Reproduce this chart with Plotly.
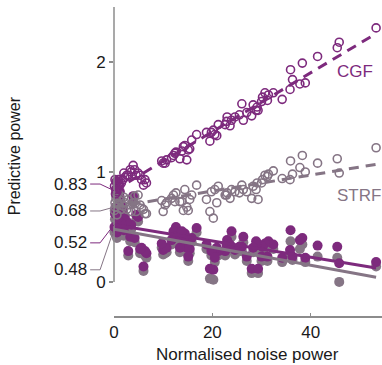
import plotly.graph_objects as go

# One entry per neuron: normalised noise power and four predictive-power measures
noise_power = [53.3, 45.8, 45.4, 41.4, 38.3, 37.8, 35.9, 36.3, 38.9, 35.8,
               34.2, 32.4, 31.4, 30.7, 31.2, 30.2, 30.0, 29.1, 28.9, 28.0,
               29.3, 28.3, 27.0, 26.0, 26.3, 25.5, 24.6, 23.9, 23.0, 22.9,
               23.6, 22.6, 21.2, 20.2, 20.9, 19.5, 18.8, 19.8, 20.5, 16.8,
               15.8, 15.4, 14.1, 14.4, 14.8, 15.1, 12.6, 12.1, 13.4, 12.4,
               11.7, 13.8, 10.7, 10.0, 10.4, 9.7, 6.6, 6.3, 6.0, 5.6,
               5.3, 4.9, 4.5, 4.2, 3.9, 3.5, 3.3, 2.9, 2.6, 2.2,
               1.8, 1.5, 1.2, 0.9, 0.8, 0.5, 0.4, 0.3, 0.2, 0.1,
               0.6, 1.0, 2.0]

cgf_norm = [2.31, 2.18, 2.13, 2.05, 1.99, 1.80, 1.93, 1.84, 1.81, 1.75,
            1.66, 1.72, 1.70, 1.72, 1.65, 1.68, 1.64, 1.59, 1.56, 1.51,
            1.56, 1.61, 1.54, 1.62, 1.47, 1.52, 1.50, 1.47, 1.50, 1.46,
            1.42, 1.43, 1.43, 1.38, 1.33, 1.28, 1.36, 1.36, 1.34, 1.34,
            1.29, 1.21, 1.23, 1.24, 1.11, 1.20, 1.18, 1.15, 1.12, 1.17,
            1.13, 1.19, 1.11, 1.08, 1.08, 1.10, 0.90, 0.93, 0.88, 0.93,
            0.97, 0.99, 0.97, 1.02, 1.06, 1.00, 1.02, 0.97, 0.97, 0.95,
            0.93, 0.90, 0.88, 0.93, 0.86, 0.91, 0.84, 0.80, 0.93, 0.87,
            0.82, 0.89, 0.99]

strf_norm = [1.22, 0.99, 1.12, 1.08, 1.15, 1.04, 1.10, 0.98, 1.00, 0.93,
             0.94, 1.01, 0.98, 0.97, 0.96, 0.93, 0.90, 0.90, 0.84, 0.76,
             0.75, 0.87, 0.82, 0.88, 0.84, 0.81, 0.82, 0.84, 0.81, 0.79,
             0.76, 0.79, 0.87, 0.58, 0.72, 0.64, 0.75, 0.82, 0.84, 0.88,
             0.79, 0.75, 0.65, 0.84, 0.68, 0.65, 0.81, 0.79, 0.73, 0.73,
             0.76, 0.73, 0.72, 0.64, 0.70, 0.74, 0.62, 0.62, 0.66, 0.67,
             0.70, 0.79, 0.64, 0.78, 0.72, 0.64, 0.70, 0.75, 0.66, 0.72,
             0.69, 0.66, 0.74, 0.80, 0.71, 0.82, 0.76, 0.68, 0.72, 0.65,
             0.61, 0.70, 0.77]

cgf_raw = [0.18, 0.17, 0.32, 0.33, 0.40, 0.38, 0.47, 0.23, 0.22, 0.29,
           0.22, 0.34, 0.37, 0.35, 0.23, 0.32, 0.23, 0.35, 0.37, 0.12,
           0.12, 0.31, 0.23, 0.32, 0.41, 0.32, 0.29, 0.46, 0.38, 0.34,
           0.34, 0.28, 0.28, 0.11, 0.31, 0.12, 0.34, 0.28, 0.22, 0.49,
           0.40, 0.30, 0.38, 0.44, 0.31, 0.23, 0.50, 0.46, 0.31, 0.41,
           0.38, 0.46, 0.31, 0.29, 0.31, 0.35, 0.26, 0.28, 0.14, 0.31,
           0.30, 0.59, 0.61, 0.40, 0.78, 0.52, 0.41, 0.28, 0.55, 0.60,
           0.68, 0.53, 0.82, 0.76, 0.58, 0.91, 0.84, 0.68, 0.62, 0.50,
           0.45, 0.72, 0.47]

strf_raw = [0.14, 0.00, 0.22, 0.23, 0.34, 0.30, 0.37, 0.20, 0.18, 0.24,
            0.18, 0.30, 0.33, 0.31, 0.19, 0.27, 0.19, 0.31, 0.32, 0.08,
            0.08, 0.27, 0.19, 0.28, 0.36, 0.28, 0.25, 0.41, 0.33, 0.30,
            0.29, 0.24, 0.24, 0.02, 0.26, 0.03, 0.30, 0.24, 0.18, 0.45,
            0.36, 0.26, 0.34, 0.40, 0.27, 0.19, 0.46, 0.42, 0.27, 0.37,
            0.34, 0.42, 0.27, 0.25, 0.26, 0.31, 0.22, 0.24, 0.10, 0.27,
            0.26, 0.55, 0.56, 0.36, 0.73, 0.48, 0.37, 0.24, 0.50, 0.55,
            0.63, 0.48, 0.77, 0.71, 0.53, 0.85, 0.79, 0.63, 0.57, 0.45,
            0.40, 0.67, 0.42]

# Linear fits: intercepts (shown on the left) and slopes
fit_names = ["CGF norm", "STRF norm", "CGF raw", "STRF raw"]
fit_intercepts = [0.83, 0.68, 0.52, 0.48]
fit_slopes = [0.0268, 0.0073, -0.0074, -0.0082]
intercept_labels = ["0.83", "0.68", "0.52", "0.48"]

x_ticks = [0, 20, 40]
y_ticks = [0, 1, 2]

PURPLE = "#7d2a7d"
MAUVE = "#857585"
AXIS = "#8c8c8c"
TEXT = "#1a1a1a"
FONT = "Liberation Sans, Arial, sans-serif"

fit_colors = [PURPLE, MAUVE, PURPLE, MAUVE]
fit_dash = ["10px,7px", "10px,7px", "solid", "solid"]

fig = go.Figure()

# filled markers: STRF underneath CGF
fig.add_trace(go.Scatter(x=noise_power, y=strf_raw, mode="markers", cliponaxis=False,
                         marker=dict(color=MAUVE, size=10, line=dict(width=0))))
fig.add_trace(go.Scatter(x=noise_power, y=cgf_raw, mode="markers", cliponaxis=False,
                         marker=dict(color=PURPLE, size=10, line=dict(width=0))))
# open markers
fig.add_trace(go.Scatter(x=noise_power, y=strf_norm, mode="markers", cliponaxis=False,
                         marker=dict(symbol="circle-open", color=MAUVE, size=8,
                                     line=dict(width=1.6))))
fig.add_trace(go.Scatter(x=noise_power, y=cgf_norm, mode="markers", cliponaxis=False,
                         marker=dict(symbol="circle-open", color=PURPLE, size=8,
                                     line=dict(width=1.6))))

# regression lines
x_end = max(noise_power)
for name, b0, b1, col, dash in zip(fit_names, fit_intercepts, fit_slopes, fit_colors, fit_dash):
    xs = [0, x_end]
    ys = [b0 + b1 * v for v in xs]
    fig.add_trace(go.Scatter(x=xs, y=ys, mode="lines", name=name,
                             line=dict(color=col, width=3, dash=dash)))

# intercept labels with bent leader lines to the y axis
label_y = [0.89, 0.645, 0.355, 0.11]
shapes = [dict(type="line", xref="paper", yref="y", x0=0, x1=0, y0=0, y1=2.5,
               line=dict(color=AXIS, width=1.5))]
annotations = []
for txt, val, ly, col in zip(intercept_labels, fit_intercepts, label_y, fit_colors):
    shapes.append(dict(type="path", xref="paper", yref="y",
                       path=f"M -0.089 {ly} L -0.052 {ly} L 0 {val}",
                       line=dict(color=col, width=1)))
    annotations.append(dict(text=txt, xref="paper", yref="y", x=-0.092, y=ly,
                            xanchor="right", yanchor="middle", showarrow=False,
                            font=dict(size=17, color=TEXT)))

annotations += [
    dict(text="CGF", xref="x", yref="y", x=44.9, y=1.91, showarrow=False,
         xanchor="left", yanchor="middle", font=dict(size=17, color=PURPLE)),
    dict(text="STRF", xref="x", yref="y", x=44.9, y=0.79, showarrow=False,
         xanchor="left", yanchor="middle", font=dict(size=17, color=MAUVE)),
    dict(text="Predictive power", xref="paper", yref="y", x=-0.37, y=1.15,
         textangle=-90, showarrow=False, xanchor="center", yanchor="middle",
         font=dict(size=16, color=TEXT)),
    dict(text="Normalised noise power", xref="x", yref="paper", x=27.2, y=-0.124,
         showarrow=False, xanchor="center", yanchor="middle",
         font=dict(size=17, color=TEXT)),
]

fig.update_layout(
    width=382, height=365,
    margin=dict(l=114, r=0, t=7, b=49),
    plot_bgcolor="white", paper_bgcolor="white",
    showlegend=False,
    font=dict(family=FONT, size=17, color=TEXT),
    shapes=shapes, annotations=annotations,
)
fig.update_xaxes(range=[0, 54.5], tickvals=x_ticks, showline=True, linecolor=AXIS,
                 linewidth=1.5, ticks="inside", ticklen=3, tickcolor=AXIS,
                 showgrid=False, zeroline=False, automargin=False,
                 ticklabelstandoff=0)
fig.update_yaxes(range=[-0.31, 2.5], tickvals=y_ticks, showline=False,
                 ticks="outside", ticklen=4, tickcolor=AXIS, tickwidth=1.5,
                 showgrid=False, zeroline=False, automargin=False)

fig.write_html("out.html")
